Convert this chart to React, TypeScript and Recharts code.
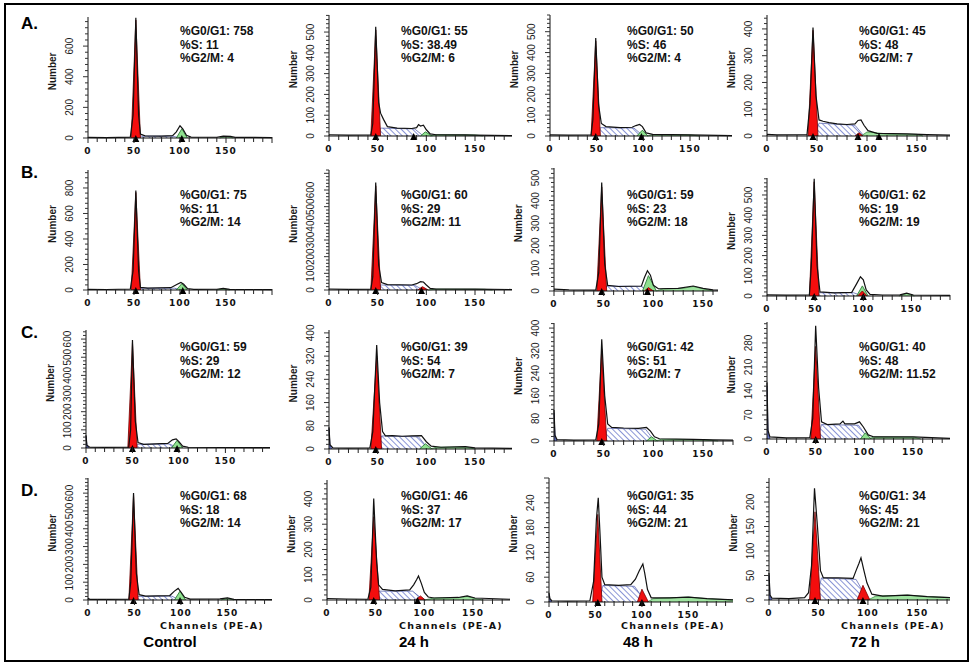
import React from "react";
import { ComposedChart, Area, Line, Scatter, XAxis, YAxis } from "recharts";

type Pt = [number, number];

// ---- labels ----
const rowLabels = ["A.", "B.", "C.", "D."];
const timeLabels = ["Control", "24 h", "48 h", "72 h"];
const g1Text = ["758", "55", "50", "45", "75", "60", "59", "62", "59", "39", "42", "40", "68", "46", "35", "34"];
const sText = ["11", "38.49", "46", "48", "11", "29", "23", "19", "29", "54", "51", "48", "18", "37", "44", "45"];
const g2Text = ["4", "6", "4", "7", "14", "11", "18", "19", "12", "7", "7", "11.52", "14", "17", "21", "21"];
const xTickLabels = [0, 50, 100, 150];

// ---- axes (panel order A1..A4, B1..B4, C1..C4, D1..D4) ----
const yLabelSteps = [200, 100, 100, 100, 200, 100, 100, 100, 100, 80, 80, 70, 100, 100, 60, 50];
const yLabelMax = [600, 500, 500, 400, 800, 600, 500, 500, 600, 400, 400, 280, 600, 400, 240, 200];
const yMaxes = [790, 582, 580, 452, 941, 720, 544, 584, 650, 410, 418, 341, 685, 475, 300, 249];
const xMaxes = [200, 188, 195, 183, 200, 188, 165, 190, 198, 188, 180, 188, 198, 188, 198, 183];

// ---- histogram outline (channel, count) ----
const outlines: Pt[][] = [
  [[0, 4], [20, 3], [46, 6], [49, 150], [52, 785], [55, 150], [57, 25], [62, 14], [80, 12], [92, 15], [96, 40], [100, 80], [103, 60], [107, 18], [112, 6], [140, 5], [147, 12], [155, 10], [160, 4], [200, 3]],
  [[0, 6], [20, 4], [43, 5], [45, 60], [48, 525], [51, 160], [53, 110], [56, 80], [60, 45], [70, 38], [85, 36], [90, 40], [92, 55], [94, 48], [97, 52], [100, 30], [104, 10], [110, 6], [140, 5], [150, 4], [188, 2]],
  [[0, 5], [20, 4], [44, 5], [46, 80], [49, 470], [52, 150], [55, 60], [60, 45], [75, 40], [88, 42], [92, 50], [96, 55], [99, 45], [103, 15], [110, 8], [150, 5], [195, 2]],
  [[0, 6], [10, 4], [40, 5], [43, 120], [46, 405], [49, 150], [52, 60], [56, 55], [62, 50], [70, 45], [80, 43], [88, 45], [91, 58], [94, 60], [97, 40], [101, 20], [110, 10], [140, 8], [160, 5], [183, 3]],
  [[0, 5], [20, 4], [46, 8], [49, 150], [52, 780], [55, 150], [57, 20], [65, 15], [90, 18], [97, 45], [101, 60], [104, 45], [108, 12], [115, 5], [140, 6], [147, 12], [154, 5], [200, 3]],
  [[0, 6], [20, 4], [43, 5], [45, 80], [48, 645], [51, 150], [54, 45], [60, 32], [85, 30], [90, 38], [94, 50], [97, 48], [100, 30], [104, 10], [110, 6], [150, 5], [188, 3]],
  [[0, 8], [15, 5], [42, 4], [45, 80], [48, 480], [51, 120], [54, 25], [65, 20], [88, 22], [91, 60], [94, 90], [97, 70], [100, 25], [105, 10], [125, 12], [140, 22], [150, 12], [160, 5], [165, 4]],
  [[0, 6], [20, 4], [44, 5], [46, 150], [49, 580], [52, 150], [55, 20], [70, 15], [88, 18], [93, 60], [97, 95], [100, 80], [103, 30], [107, 8], [120, 5], [138, 6], [145, 14], [152, 5], [190, 3]],
  [[0, 70], [1, 15], [4, 4], [20, 3], [46, 5], [48, 100], [50, 595], [53, 150], [56, 30], [62, 20], [88, 25], [93, 45], [97, 50], [100, 35], [104, 10], [110, 4], [198, 2]],
  [[0, 75], [1, 15], [4, 4], [20, 3], [42, 4], [45, 60], [49, 358], [52, 160], [55, 60], [58, 45], [65, 46], [75, 44], [85, 45], [95, 46], [100, 25], [105, 10], [115, 6], [140, 8], [150, 4], [188, 2]],
  [[0, 110], [1, 20], [3, 5], [20, 3], [42, 4], [45, 60], [48, 360], [51, 160], [54, 60], [58, 48], [70, 46], [85, 45], [93, 48], [97, 35], [101, 15], [106, 8], [140, 6], [160, 4], [180, 3]],
  [[0, 165], [1, 25], [3, 6], [20, 3], [44, 4], [47, 60], [50, 330], [53, 150], [56, 50], [62, 42], [75, 44], [78, 52], [80, 44], [90, 44], [95, 50], [99, 35], [104, 12], [110, 6], [150, 6], [188, 2]],
  [[0, 10], [2, 4], [20, 3], [44, 5], [46, 100], [49, 600], [52, 150], [55, 30], [62, 22], [88, 25], [93, 50], [97, 65], [100, 45], [104, 15], [110, 5], [142, 6], [150, 12], [157, 4], [198, 2]],
  [[0, 6], [20, 4], [42, 3], [45, 50], [48, 402], [51, 150], [53, 60], [57, 42], [70, 36], [85, 40], [89, 60], [92, 80], [94, 95], [97, 65], [100, 30], [104, 12], [110, 8], [135, 10], [144, 16], [152, 8], [188, 3]],
  [[0, 22], [1, 8], [3, 3], [20, 2], [44, 3], [48, 50], [51, 200], [53, 252], [55, 160], [57, 60], [60, 42], [75, 40], [88, 42], [93, 55], [97, 75], [101, 92], [103, 70], [106, 30], [110, 10], [130, 10], [150, 12], [170, 8], [198, 5]],
  [[0, 55], [1, 10], [3, 4], [20, 3], [36, 5], [40, 15], [43, 70], [46, 228], [49, 150], [52, 60], [55, 45], [70, 45], [85, 44], [88, 60], [91, 75], [93, 86], [96, 60], [99, 35], [104, 12], [115, 8], [140, 10], [160, 7], [183, 5]],
];

// ---- G0/G1 peak (red) ----
const g1Peaks: Pt[][] = [
  [[47, 0], [52, 770], [57, 0]],
  [[43, 0], [48, 510], [53, 0]],
  [[44, 0], [49, 455], [54, 0]],
  [[41, 0], [46, 395], [51, 0]],
  [[47, 0], [52, 765], [57, 0]],
  [[43, 0], [48, 625], [53, 0]],
  [[43, 0], [48, 460], [53, 0]],
  [[44, 0], [49, 565], [54, 0]],
  [[45, 0], [50, 580], [55, 0]],
  [[43, 0], [49, 320], [54, 0]],
  [[43, 0], [48, 325], [53, 0]],
  [[45, 0], [50, 270], [55, 0]],
  [[44, 0], [49, 590], [54, 0]],
  [[43, 0], [48, 330], [54, 0]],
  [[47, 0], [52.5, 212], [57, 0]],
  [[41, 0], [46.5, 180], [52, 0]],
];

// ---- S phase (hatched) ----
const sPhases: Pt[][] = [
  [[54, 0], [57, 12], [92, 12], [100, 0]],
  [[50, 0], [53, 38], [88, 34], [97, 0]],
  [[51, 0], [54, 40], [90, 38], [100, 0]],
  [[48, 0], [52, 48], [88, 40], [97, 0]],
  [[54, 0], [57, 14], [94, 14], [102, 0]],
  [[50, 0], [53, 30], [88, 28], [97, 0]],
  [[50, 0], [53, 22], [88, 20], [97, 0]],
  [[51, 0], [54, 16], [90, 16], [99, 0]],
  [[52, 0], [55, 20], [90, 22], [99, 0]],
  [[50, 0], [54, 45], [92, 42], [102, 0]],
  [[50, 0], [54, 45], [92, 42], [101, 0]],
  [[52, 0], [56, 42], [94, 40], [104, 0]],
  [[51, 0], [54, 20], [90, 22], [99, 0]],
  [[50, 0], [53, 35], [88, 35], [99, 0]],
  [[54, 0], [58, 40], [92, 38], [104, 0]],
  [[48, 0], [53, 45], [88, 42], [100, 0]],
];

// ---- G2/M peak, green model ----
const g2Green: (Pt[] | null)[] = [
  [[96, 0], [102, 60], [108, 0]],
  [[94, 0], [99, 20], [106, 0]],
  [[93, 0], [99, 28], [105, 0]],
  null,
  [[96, 0], [102, 50], [108, 0]],
  null,
  [[89, 0], [95, 68], [103, 0]],
  [[93, 0], [99, 50], [105, 0]],
  [[92, 0], [98, 42], [104, 0]],
  [[93, 0], [99, 18], [106, 0]],
  [[93, 0], [98, 15], [104, 0]],
  [[96, 0], [101, 18], [107, 0]],
  [[93, 0], [99, 50], [105, 0]],
  null,
  null,
  null,
];

// ---- G2/M peak, red model ----
const g2Red: (Pt[] | null)[] = [
  null,
  null,
  null,
  [[88, 0], [92, 12], [96, 0]],
  null,
  [[91, 0], [96, 20], [102, 0]],
  [[91, 0], [95, 15], [100, 0]],
  [[94, 0], [99, 25], [104, 0]],
  null,
  null,
  null,
  null,
  null,
  [[91, 0], [96, 16], [101, 0]],
  [[95, 0], [100, 31], [107, 0]],
  [[89, 0], [95, 30], [102, 0]],
];

// ---- debris / aggregates (light green) ----
const debris: (Pt[] | null)[] = [
  [[143, 0], [150, 10], [158, 0]],
  [[104, 0], [110, 6], [150, 5], [158, 0]],
  [[104, 0], [110, 6], [150, 5], [160, 0]],
  [[94, 0], [100, 15], [120, 8], [150, 6], [156, 0]],
  [[140, 0], [147, 10], [154, 0]],
  [[102, 0], [110, 5], [160, 4], [168, 0]],
  [[103, 0], [110, 10], [130, 12], [140, 20], [152, 8], [160, 0]],
  [[137, 0], [145, 12], [153, 0]],
  null,
  [[104, 0], [110, 6], [140, 7], [150, 0]],
  [[102, 0], [108, 6], [150, 5], [165, 0]],
  [[104, 0], [110, 6], [152, 5], [158, 0]],
  [[143, 0], [150, 10], [157, 0]],
  [[100, 0], [110, 8], [135, 9], [144, 14], [152, 6], [160, 0]],
  [[106, 0], [112, 8], [130, 10], [150, 12], [170, 8], [198, 5]],
  [[100, 0], [108, 8], [140, 10], [160, 7], [183, 5]],
];

// ---- events near channel 0 (blue) ----
const nearZero: (Pt[] | null)[] = [
  null, null, null, null,
  null, null, null, null,
  [[0, 65], [1, 12], [3, 0]],
  [[0, 70], [1, 12], [3, 0]],
  [[0, 100], [1, 15], [3, 0]],
  [[0, 155], [1, 20], [3, 0]],
  null, null,
  [[0, 18], [1, 5], [3, 0]],
  [[0, 50], [1, 8], [3, 0]],
];

// ---- peak markers (channel) ----
const markerChannels: number[][] = [
  [52, 102], [48, 87], [49, 98], [46, 91, 112],
  [52, 103], [48, 95], [48, 94], [49, 100],
  [50, 98], [48], [48], [50],
  [49, 99], [48, 93], [52.5, 100], [46.5, 95],
];

// ---- page layout (pixels) ----
const axisX = [88, 329, 550, 767, 88, 329, 554, 767, 86, 329, 554, 767, 88, 327, 549, 769];
const plotTop = [17, 15, 15, 15, 170, 170, 168, 178, 330, 330, 323, 322, 478, 480, 478, 478];
const plotBase = [138, 136, 136, 136, 290, 290, 291, 296, 448, 449, 441, 439, 600, 600, 602, 600];
const plotW = [184, 183, 182, 183, 184, 183, 164, 183, 184, 183, 179, 183, 184, 183, 184, 181];
const statsX = [180, 401, 627, 859];
const statsY = [35, 199, 351, 500];
const rowLabelY = [29, 178, 338, 496];
const timeX = [170, 414, 638, 865];

const toRows = (pts: Pt[]) => pts.map(([x, y]) => ({ x, y }));

const XTick = (props: any) => {
  const { x, y, payload } = props;
  const v = payload.value;
  const major = v % 50 === 0;
  return (
    <g>
      <line x1={x} x2={x} y1={y - 1} y2={y + (major ? 5 : 4)} stroke="#222" strokeWidth={1} />
      {xTickLabels.includes(v) && (
        <text x={x} y={y + 16} textAnchor="middle" fontFamily="DejaVu Sans" fontWeight="bold" fontSize={9} letterSpacing={1} fill="#111">
          {v}
        </text>
      )}
    </g>
  );
};

// vertical text, read bottom to top (matrix = rotate(-90) about cx, cy)
const VText = ({ cx, cy, size, bold, children }: any) => (
  <text
    x={0}
    y={size * 0.36}
    transform={`matrix(0 -1 1 0 ${cx} ${cy})`}
    textAnchor="middle"
    fontFamily="Liberation Sans Narrow, Liberation Sans"
    fontWeight={bold ? "bold" : "normal"}
    fontSize={size}
    fill="#1a1a1a"
  >
    {children}
  </text>
);

const YTick = (props: any) => {
  const { x, y, payload, step, labelMax } = props;
  const v = payload.value;
  const k = v / step;
  const major = Math.abs(k - Math.round(k)) < 1e-6;
  return (
    <g>
      <line x1={x - (major ? 5 : 3)} x2={x} y1={y} y2={y} stroke="#333" strokeWidth={1} />
      {major && v <= labelMax && (
        <VText cx={x - 19} cy={y} size={10}>
          {v}
        </VText>
      )}
    </g>
  );
};

const Tri = (p: any) => (
  <polygon points={`${p.cx - 3.5},${p.cy + 4} ${p.cx + 3.5},${p.cy + 4} ${p.cx},${p.cy - 3}`} fill="#000" />
);

function Panel({ i }: { i: number }) {
  const ax = axisX[i];
  const top = plotTop[i];
  const h = plotBase[i] - top;
  const w = plotW[i];
  const step = yLabelSteps[i];
  const yMax = yMaxes[i];
  const minor = step / 5;
  const yTicks: number[] = [];
  for (let k = 0; k * minor <= yMax + 1e-6; k++) yTicks.push(Math.round(k * minor * 1000) / 1000);
  const xTicks: number[] = [];
  for (let v = 0; v <= xMaxes[i]; v += 10) xTicks.push(v);
  const g2g = g2Green[i];
  const g2r = g2Red[i];
  const deb = debris[i];
  const nz = nearZero[i];
  return (
    <div style={{ position: "absolute", left: ax - 60, top: top - 6 }}>
      <ComposedChart width={w + 70} height={h + 6 + 30} margin={{ top: 6, right: 10, bottom: 0, left: 0 }}>
        <XAxis
          type="number"
          dataKey="x"
          domain={[0, xMaxes[i]]}
          ticks={xTicks}
          interval={0}
          height={30}
          tickSize={0}
          tickMargin={0}
          tickLine={false}
          axisLine={{ stroke: "#111" }}
          tick={(p: any) => <XTick {...p} />}
        />
        <YAxis
          type="number"
          dataKey="y"
          domain={[0, yMax]}
          ticks={yTicks}
          interval={0}
          width={60}
          tickSize={0}
          tickMargin={0}
          tickLine={false}
          axisLine={{ stroke: "#111" }}
          tick={(p: any) => <YTick {...p} step={step} labelMax={yLabelMax[i]} />}
        />
        <Area data={toRows(sPhases[i])} dataKey="y" type="linear" fill="url(#sHatch)" fillOpacity={1} stroke="#4b57a8" strokeWidth={0.7} dot={false} activeDot={false} isAnimationActive={false} />
        {deb && (
          <Area data={toRows(deb)} dataKey="y" type="linear" fill="#9fe3a0" fillOpacity={1} stroke="#3f8f4a" strokeWidth={0.8} dot={false} activeDot={false} isAnimationActive={false} />
        )}
        {nz && (
          <Area data={toRows(nz)} dataKey="y" type="linear" fill="#6a78c8" fillOpacity={1} stroke="#2b3590" strokeWidth={0.8} dot={false} activeDot={false} isAnimationActive={false} />
        )}
        {g2g && (
          <Area data={toRows(g2g)} dataKey="y" type="linear" fill="#8fe08f" fillOpacity={1} stroke="#2f7d3a" strokeWidth={0.9} dot={false} activeDot={false} isAnimationActive={false} />
        )}
        {g2r && (
          <Area data={toRows(g2r)} dataKey="y" type="linear" fill="#f01010" fillOpacity={1} stroke="#7a0000" strokeWidth={0.8} dot={false} activeDot={false} isAnimationActive={false} />
        )}
        <Area data={toRows(g1Peaks[i])} dataKey="y" type="linear" fill="#f40d0d" fillOpacity={1} stroke="#6b0000" strokeWidth={0.8} dot={false} activeDot={false} isAnimationActive={false} />
        <Line data={toRows(outlines[i])} dataKey="y" type="linear" stroke="#111" strokeWidth={1.2} dot={false} activeDot={false} isAnimationActive={false} />
        <Scatter data={markerChannels[i].map((c) => ({ x: c, y: 0 }))} dataKey="y" shape={Tri} isAnimationActive={false} />
      </ComposedChart>
    </div>
  );
}

export default function App() {
  const idx = Array.from({ length: 16 }, (_, k) => k);
  return (
    <div style={{ position: "absolute", left: 0, top: 0, width: 972, height: 667, background: "#fff", fontFamily: "Liberation Sans, Arial, sans-serif" }}>
      {idx.map((i) => (
        <Panel key={i} i={i} />
      ))}
      <svg width={972} height={667} style={{ position: "absolute", left: 0, top: 0, pointerEvents: "none" }}>
        <defs>
          <pattern id="sHatch" patternUnits="userSpaceOnUse" width={4} height={4} patternTransform="rotate(-45)">
            <rect width={4} height={4} fill="#fff" />
            <line x1={0} y1={0} x2={0} y2={4} stroke="#4a5cc0" strokeWidth={1.3} />
          </pattern>
        </defs>
        <rect x={5} y={4} width={963} height={657} fill="none" stroke="#000" strokeWidth={2} />
        {rowLabels.map((t, r) => (
          <text key={t} x={21} y={rowLabelY[r]} fontSize={17} fontWeight="bold" fill="#000">
            {t}
          </text>
        ))}
        {timeLabels.map((t, c) => (
          <text key={t} x={timeX[c]} y={647} textAnchor="middle" fontSize={15} fontWeight="bold" fill="#000">
            {t}
          </text>
        ))}
        {idx.map((i) => {
          const r = Math.floor(i / 4);
          const c = i % 4;
          const ax = axisX[i];
          const top = plotTop[i];
          const h = plotBase[i] - top;
          return (
            <g key={i}>
              <text x={statsX[c]} y={statsY[r]} fontSize={12} fontWeight="bold" fill="#111">{`%G0/G1: ${g1Text[i]}`}</text>
              <text x={statsX[c]} y={statsY[r] + 13.7} fontSize={12} fontWeight="bold" fill="#111">{`%S: ${sText[i]}`}</text>
              <text x={statsX[c]} y={statsY[r] + 27.4} fontSize={12} fontWeight="bold" fill="#111">{`%G2/M: ${g2Text[i]}`}</text>
              <VText cx={ax - 36} cy={top + h * 0.45} size={10} bold>
                Number
              </VText>
              {r === 3 && (
                <text x={ax + 72} y={629} fontFamily="DejaVu Sans" fontWeight="bold" fontSize={9.5} letterSpacing={1.2} fill="#111">
                  Channels (PE-A)
                </text>
              )}
            </g>
          );
        })}
      </svg>
    </div>
  );
}
